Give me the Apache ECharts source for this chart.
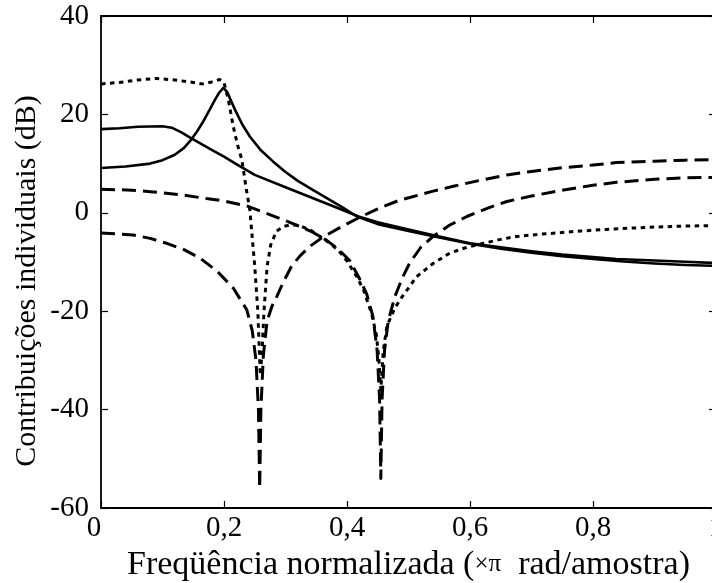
<!DOCTYPE html>
<html>
<head>
<meta charset="utf-8">
<script src="https://cdn.jsdelivr.net/npm/echarts@6/dist/echarts.min.js"></script>
<style>
  html, body { margin: 0; padding: 0; background: #fff; }
  #chart { width: 712px; height: 583px; }
</style>
</head>
<body>
<div id="chart"></div>
<script>
// Axis ticks
const xTicks = [0, 0.2, 0.4, 0.6, 0.8, 1];
const yTicks = [-60, -40, -20, 0, 20, 40];

// Pole section, low Q (solid)
const freqPoloA = [0, 0.03, 0.06, 0.1, 0.115, 0.13, 0.145, 0.16, 0.18, 0.2, 0.22, 0.25, 0.3, 0.35, 0.4, 0.42, 0.45, 0.5, 0.55, 0.6, 0.65, 0.7, 0.75, 0.8, 0.838, 0.9, 0.95, 1];
const dbPoloA = [17.0, 17.2, 17.5, 17.6, 17.3, 16.4, 15.3, 14.2, 12.8, 11.4, 9.9, 7.7, 5.2, 2.7, 0.2, -0.8, -1.9, -3.4, -4.8, -6.2, -7.0, -7.8, -8.5, -9.0, -9.4, -9.7, -9.95, -10.2];

// Pole section, resonant near 0.2 (solid)
const freqPoloB = [0, 0.04, 0.08, 0.1, 0.12, 0.135, 0.145, 0.155, 0.165, 0.177, 0.185, 0.192, 0.199, 0.205, 0.212, 0.22, 0.23, 0.242, 0.26, 0.28, 0.3, 0.32, 0.345, 0.37, 0.394, 0.416, 0.45, 0.5, 0.55, 0.6, 0.65, 0.7, 0.75, 0.8, 0.85, 0.9, 0.95, 1];
const dbPoloB = [9.1, 9.4, 10.0, 10.7, 11.8, 13.2, 14.6, 16.3, 18.3, 21.0, 22.9, 24.4, 25.4, 24.6, 22.6, 20.4, 17.9, 15.5, 12.7, 10.4, 8.3, 6.5, 4.6, 2.8, 1.0, -0.75, -2.3, -3.7, -5.0, -6.3, -7.3, -8.1, -8.8, -9.4, -9.9, -10.3, -10.6, -10.8];

// Overall response (dotted)
const freqTotal = [0, 0.03, 0.06, 0.09, 0.12, 0.15, 0.165, 0.18, 0.193, 0.2, 0.207, 0.215, 0.222, 0.229, 0.236, 0.242, 0.25, 0.255, 0.259, 0.262, 0.265, 0.27, 0.276, 0.285, 0.296, 0.31, 0.325, 0.34, 0.355, 0.37, 0.385, 0.4, 0.416, 0.427, 0.44, 0.448, 0.452, 0.455, 0.459, 0.465, 0.478, 0.49, 0.5, 0.513, 0.54, 0.567, 0.595, 0.622, 0.65, 0.676, 0.71, 0.741, 0.78, 0.82, 0.865, 0.9, 0.95, 1];
const dbTotal = [26.2, 26.5, 27.0, 27.3, 27.0, 26.5, 26.2, 26.6, 27.1, 26.5, 23.0, 17.6, 13.8, 10.8, 5.0, 0.6, -10.9, -20, -33, -28, -20, -11, -6.5, -3.8, -2.8, -2.4, -2.7, -3.5, -4.7, -6.0, -7.5, -9.8, -13, -15.7, -20.5, -25, -30, -36, -28, -23, -19.3, -17, -15.3, -13, -10.3, -8.2, -7.0, -6.2, -5.4, -4.8, -4.4, -4.1, -3.7, -3.4, -3.1, -2.9, -2.7, -2.6];

// Zero section near 0.455 (dashed)
const freqZeroA = [0, 0.05, 0.08, 0.128, 0.177, 0.2, 0.237, 0.269, 0.3, 0.324, 0.345, 0.367, 0.385, 0.405, 0.42, 0.432, 0.442, 0.449, 0.453, 0.455, 0.457, 0.461, 0.467, 0.478, 0.49, 0.502, 0.52, 0.54, 0.567, 0.595, 0.63, 0.66, 0.7, 0.746, 0.8, 0.838, 0.9, 0.95, 1];
const dbZeroA = [4.8, 4.6, 4.3, 3.7, 2.8, 2.4, 1.4, -0.1, -1.6, -2.8, -4.0, -5.6, -7.3, -9.8, -13.3, -16.5, -21, -28, -38, -54, -38, -28, -22, -17, -13.2, -10.2, -7.0, -4.8, -2.5, -0.75, 1.0, 2.3, 3.4, 4.5, 5.6, 6.2, 6.8, 7.1, 7.2];

// Zero section near 0.258 (dashed)
const freqZeroB = [0, 0.052, 0.08, 0.107, 0.135, 0.161, 0.19, 0.215, 0.237, 0.246, 0.252, 0.256, 0.258, 0.26, 0.264, 0.27, 0.278, 0.286, 0.296, 0.31, 0.324, 0.34, 0.359, 0.39, 0.421, 0.45, 0.486, 0.502, 0.54, 0.573, 0.62, 0.66, 0.7, 0.746, 0.8, 0.838, 0.9, 0.95, 1];
const dbZeroB = [-4.1, -4.5, -5.2, -6.2, -7.5, -9.2, -12.0, -15.3, -19.7, -24, -30, -40, -56, -40, -29, -22, -19, -17, -14.2, -10.8, -8.7, -6.8, -5.1, -2.9, -0.9, 0.8, 2.6, 3.1, 4.4, 5.4, 6.7, 7.7, 8.4, 9.1, 9.7, 10.2, 10.5, 10.7, 10.8];

const pairs = (fs, vs) => fs.map((f, i) => [f, vs[i]]);

const serif = "'Liberation Serif', 'Times New Roman', serif";
const ink = '#000';

function curve(fs, vs, width, dash) {
  return {
    type: 'line',
    data: pairs(fs, vs),
    showSymbol: false,
    smooth: false,
    animation: false,
    lineStyle: { color: ink, width: width, type: dash, cap: 'butt', join: 'round' },
    emphasis: { disabled: true }
  };
}

const chart = echarts.init(document.getElementById('chart'), null, { renderer: 'canvas' });

const tickStyle = { show: true, inside: true, length: 7, lineStyle: { color: ink, width: 1.2 } };
const lineStyle = { show: true, onZero: false, lineStyle: { color: ink, width: 1.8 } };

chart.setOption({
  animation: false,
  backgroundColor: '#fff',
  grid: { left: 101, right: -4, top: 16, bottom: 75, containLabel: false, outerBoundsMode: 'none' },
  xAxis: [
    {
      type: 'value', min: xTicks[0], max: xTicks[xTicks.length - 1], interval: 0.2,
      position: 'bottom',
      axisLine: lineStyle, axisTick: tickStyle, splitLine: { show: false },
      axisLabel: {
        color: ink, fontFamily: serif, fontSize: 29, margin: 6,
        formatter: v => v === 0 ? '{z|0}' : String(Math.round(v * 10) / 10).replace('.', ','),
        rich: { z: { fontFamily: serif, fontSize: 29, color: ink, padding: [0, 14, 0, 0] } }
      },
      name: '{a|Freqüência normalizada (}{s|×π}{a|  rad/amostra)}',
      nameLocation: 'middle', nameGap: 26,
      nameTextStyle: {
        rich: {
          a: { fontFamily: serif, fontSize: 34, color: ink },
          s: { fontFamily: serif, fontSize: 25, color: ink }
        }
      }
    },
    {
      type: 'value', min: xTicks[0], max: xTicks[xTicks.length - 1], interval: 0.2,
      position: 'top',
      axisLine: lineStyle, axisTick: tickStyle, axisLabel: { show: false }, splitLine: { show: false }
    }
  ],
  yAxis: [
    {
      type: 'value', min: yTicks[0], max: yTicks[yTicks.length - 1], interval: 20,
      position: 'left',
      axisLine: lineStyle, axisTick: tickStyle, splitLine: { show: false },
      axisLabel: { color: ink, fontFamily: serif, fontSize: 29, margin: 12 }
    },
    {
      type: 'value', min: yTicks[0], max: yTicks[yTicks.length - 1], interval: 20,
      position: 'right',
      axisLine: lineStyle, axisTick: tickStyle, axisLabel: { show: false }, splitLine: { show: false }
    }
  ],
  graphic: [
    {
      type: 'text', x: 27, y: 281, rotation: Math.PI / 2,
      style: {
        text: 'Contribuições individuais (dB)',
        fontFamily: serif, fontSize: 30, fill: ink,
        align: 'center', verticalAlign: 'middle'
      }
    }
  ],
  series: [
    curve(freqPoloA, dbPoloA, 2.6, 'solid'),
    curve(freqPoloB, dbPoloB, 2.6, 'solid'),
    curve(freqTotal, dbTotal, 3, [4.5, 4.5]),
    curve(freqZeroA, dbZeroA, 3, [14, 7]),
    curve(freqZeroB, dbZeroB, 3, [14, 7])
  ]
});
</script>
</body>
</html>
